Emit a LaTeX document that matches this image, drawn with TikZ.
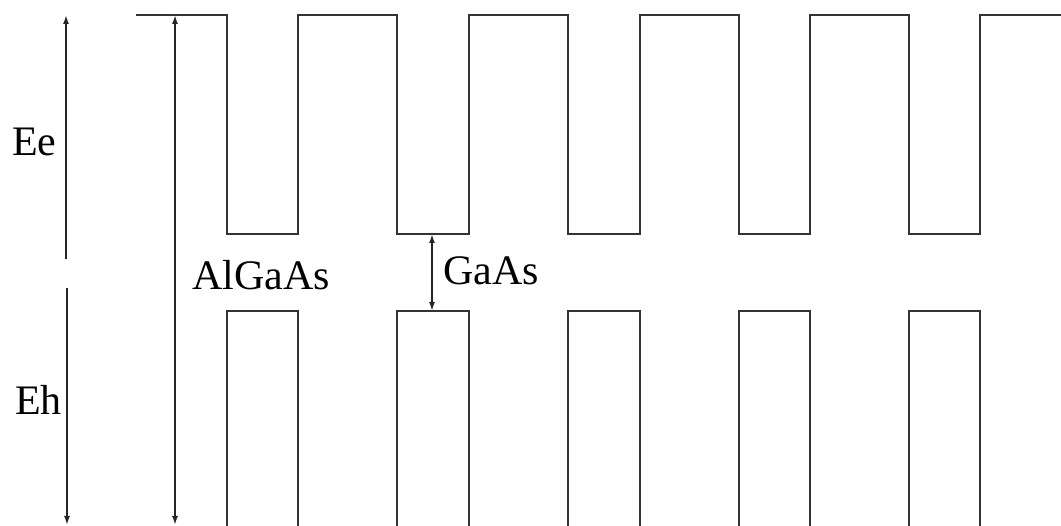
\documentclass[tikz,border=0pt]{standalone}
\usepackage{fontspec}
\setmainfont{Liberation Serif}
\usetikzlibrary{arrows.meta}
\begin{document}
\begin{tikzpicture}[x=1pt,y=-1pt,
  band/.style={line width=2pt,draw=black!80,line join=miter},
  dim/.style={line width=1.6pt,draw=black!85},
  tip/.style={-{Latex[length=9pt,width=6pt]}},
  tips/.style={{Latex[length=9pt,width=6pt]}-{Latex[length=9pt,width=6pt]}},
  lbl/.style={font=\fontsize{42}{50}\selectfont,inner sep=0pt,anchor=base west}]
\useasboundingbox (0,0) rectangle (1061,526);
% conduction band
\draw[band] (136,15) -- (227,15) -- (227,234) -- (298,234) -- (298,15)
  -- (397,15) -- (397,234) -- (469,234) -- (469,15)
  -- (568,15) -- (568,234) -- (640,234) -- (640,15)
  -- (739,15) -- (739,234) -- (810,234) -- (810,15)
  -- (909,15) -- (909,234) -- (980,234) -- (980,15) -- (1061,15);
% valence band
\foreach \a/\b in {227/298,397/469,568/640,739/810,909/980}{
  \draw[band] (\a,530) -- (\a,311) -- (\b,311) -- (\b,530);
}
% arrows
\coordinate (eeb) at (66,259);
\coordinate (eet) at (66,15);
\coordinate (ehb) at (67,288);
\coordinate (eht) at (67,525);
\coordinate (agt) at (175,15);
\coordinate (agb) at (175,525);
\coordinate (gat) at (432,234);
\coordinate (gab) at (432,311);
\draw[dim,tip] (eeb) -- (eet);
\draw[dim,tip] (ehb) -- (eht);
\draw[dim,tips] (agt) -- (agb);
\draw[dim,tips] (gat) -- (gab);
% labels
\node[lbl] (ee) at (12,156) {Ee};
\node[lbl] (eh) at (15,415) {Eh};
\node[lbl] (ag) at (192,290) {AlGaAs};
\node[lbl] (ga) at (443,285) {GaAs};
\end{tikzpicture}
\end{document}
